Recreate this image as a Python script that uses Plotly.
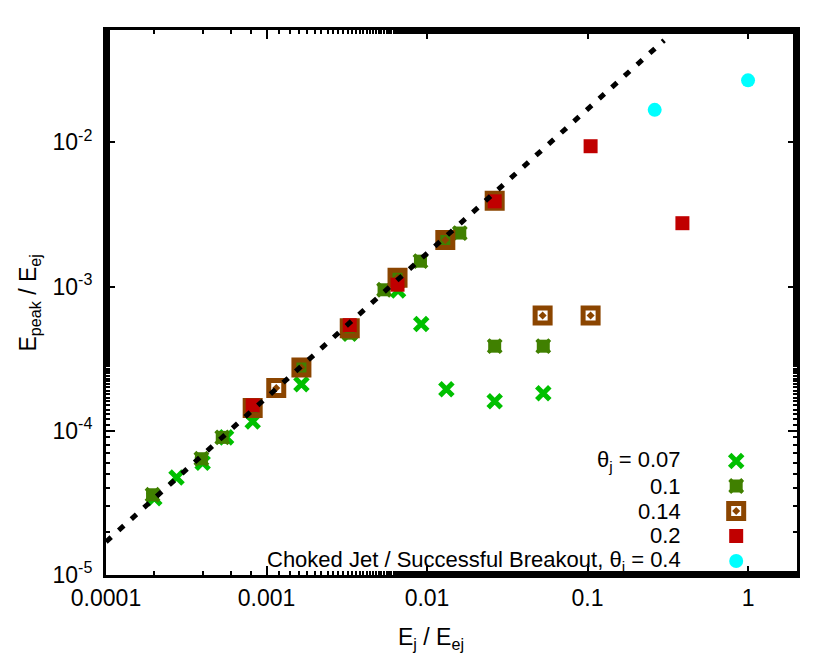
import plotly.graph_objects as go

# ---------------- data ----------------
x_007 = [2.0e-4, 2.75e-4, 4.0e-4, 5.6e-4, 8.2e-4, 1.65e-3, 3.3e-3, 6.6e-3, 9.2e-3, 0.0132, 0.0264, 0.053]
y_007 = [3.4e-5, 4.75e-5, 6.0e-5, 9.0e-5, 1.16e-4, 2.1e-4, 4.7e-4, 9.4e-4, 5.5e-4, 1.94e-4, 1.6e-4, 1.82e-4]

x_010 = [1.95e-4, 3.93e-4, 5.3e-4, 8.2e-4, 1.65e-3, 3.3e-3, 5.4e-3, 6.55e-3, 9.1e-3, 0.013, 0.016, 0.0264, 0.053]
y_010 = [3.6e-5, 6.4e-5, 9.0e-5, 1.4e-4, 2.75e-4, 4.75e-4, 9.5e-4, 1.15e-3, 1.5e-3, 2.1e-3, 2.35e-3, 3.86e-4, 3.86e-4]

x_014 = [8.2e-4, 1.15e-3, 1.65e-3, 3.3e-3, 6.55e-3, 0.013, 0.0264, 0.0525, 0.1045]
y_014 = [1.44e-4, 1.98e-4, 2.75e-4, 5.15e-4, 1.15e-3, 2.1e-3, 3.93e-3, 6.3e-4, 6.3e-4]

x_020 = [8.2e-4, 3.3e-3, 6.55e-3, 0.0264, 0.1045, 0.39]
y_020 = [1.5e-4, 5.4e-4, 1.03e-3, 3.9e-3, 9.4e-3, 2.75e-3]

x_040 = [0.262, 1.0]
y_040 = [0.0168, 0.0269]

fit_x = [1e-4, 0.3]
fit_y = [1.7e-5, 0.051]

x_tickvals = [1e-4, 1e-3, 1e-2, 1e-1, 1]
x_ticktext = ["0.0001", "0.001", "0.01", "0.1", "1"]
y_tickvals = [1e-5, 1e-4, 1e-3, 1e-2]
y_ticktext = ["10<sup>-5</sup>", "10<sup>-4</sup>", "10<sup>-3</sup>", "10<sup>-2</sup>"]

legend_labels = ["θ<sub>j</sub> = 0.07", "0.1", "0.14", "0.2",
                 "Choked Jet / Successful Breakout, θ<sub>j</sub> = 0.4"]

# ---------------- styles ----------------
C_GREEN = "#00c000"
C_DGREEN = "#408000"
C_BROWN = "#8b4500"
C_RED = "#c00000"
C_CYAN = "#00ffff"
FONT = "Liberation Sans, Arial, sans-serif"
FS = 23
FS_KEY = 22

m007 = dict(symbol="x-thin", size=13, color=C_GREEN, line=dict(color=C_GREEN, width=5))
m010x = dict(symbol="x-thin", size=13, color=C_DGREEN, line=dict(color=C_DGREEN, width=4))
m010s = dict(symbol="square", size=13, color=C_DGREEN, line=dict(width=0))
m014 = dict(symbol="square-open-dot", size=15, color=C_BROWN, line=dict(color=C_BROWN, width=5))
m020 = dict(symbol="square", size=14, color=C_RED, line=dict(width=0))
m040 = dict(symbol="circle", size=14, color=C_CYAN, line=dict(width=0))

fig = go.Figure()

fig.add_trace(go.Scatter(x=x_007, y=y_007, mode="markers", marker=m007, showlegend=False))
fig.add_trace(go.Scatter(x=x_010, y=y_010, mode="markers", marker=m010x, showlegend=False))
fig.add_trace(go.Scatter(x=x_010, y=y_010, mode="markers", marker=m010s, showlegend=False))
fig.add_trace(go.Scatter(x=x_014, y=y_014, mode="markers", marker=m014, showlegend=False))
fig.add_trace(go.Scatter(x=x_020, y=y_020, mode="markers", marker=m020, showlegend=False))
fig.add_trace(go.Scatter(x=x_040, y=y_040, mode="markers", marker=m040, showlegend=False))
fig.add_trace(go.Scatter(x=fit_x, y=fit_y, mode="lines",
                         line=dict(color="black", width=5, dash="7px,10px"), showlegend=False))

# ---------------- gnuplot-style key (overlay axes in 0..1 units) ----------------
key_x = 0.912
key_text_x = 0.834
key_rows = [0.2092, 0.1633, 0.1174, 0.0716, 0.0257]
key_markers = [[m007], [m010x, m010s], [m014], [m020], [m040]]
for row, ms in zip(key_rows, key_markers):
    for m in ms:
        fig.add_trace(go.Scatter(x=[key_x], y=[row], xaxis="x2", yaxis="y2", mode="markers",
                                 marker=m, showlegend=False, hoverinfo="skip"))
annotations = []
for row, lab in zip(key_rows, legend_labels):
    annotations.append(dict(x=key_text_x, y=row, xref="paper", yref="paper", text=lab,
                            showarrow=False, xanchor="right", yanchor="middle", borderpad=0,
                            font=dict(family=FONT, size=FS_KEY, color="black")))

annotations.append(dict(x=0.47, y=-0.116, xref="paper", yref="paper",
                        text="E<sub>j</sub> / E<sub>ej</sub>", showarrow=False,
                        xanchor="center", yanchor="middle",
                        font=dict(family=FONT, size=FS, color="black")))
annotations.append(dict(x=-0.11, y=0.5, xref="paper", yref="paper",
                        text="E<sub>peak</sub> / E<sub>ej</sub>", showarrow=False, textangle=-90,
                        xanchor="center", yanchor="middle",
                        font=dict(family=FONT, size=FS, color="black")))

axis_common = dict(
    type="log", showgrid=False, zeroline=False,
    showline=True, linecolor="black", linewidth=3, mirror="ticks",
    ticks="inside", ticklen=9, tickwidth=1.5, tickcolor="black",
    tickfont=dict(family=FONT, size=FS, color="black"),
    minor=dict(ticks="inside", ticklen=4, tickwidth=1.5, tickcolor="black", showgrid=False),
)

fig.update_layout(
    width=830, height=664,
    margin=dict(l=98, r=41, t=22, b=97),
    paper_bgcolor="white", plot_bgcolor="white",
    showlegend=False,
    xaxis=dict(range=[-4, 0.305], tickvals=x_tickvals, ticktext=x_ticktext,
               ticklabelstandoff=0, **axis_common),
    yaxis=dict(range=[-5, -1.221], tickvals=y_tickvals, ticktext=y_ticktext,
               ticklabelstandoff=6, **axis_common),
    xaxis2=dict(overlaying="x", range=[0, 1], visible=False),
    yaxis2=dict(overlaying="y", range=[0, 1], visible=False),
    annotations=annotations,
    font=dict(family=FONT, size=FS, color="black"),
)

fig.write_html("out.html")
